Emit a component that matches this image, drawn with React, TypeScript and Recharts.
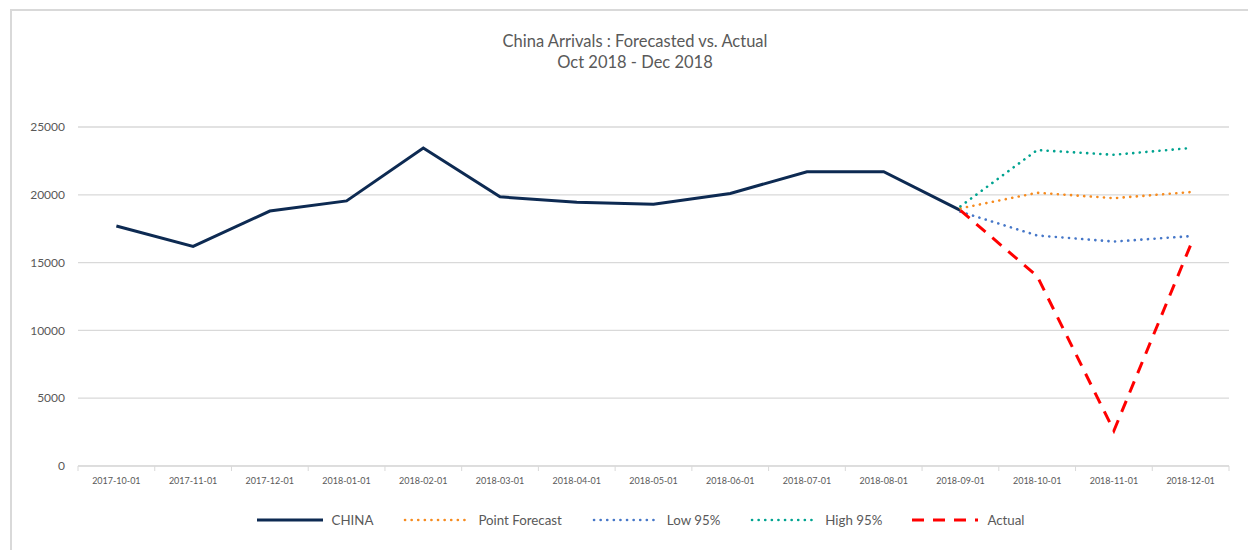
import React from 'react';
import { LineChart, Line, XAxis, YAxis, CartesianGrid, Legend } from 'recharts';

const months = [
  '2017-10-01', '2017-11-01', '2017-12-01', '2018-01-01', '2018-02-01', '2018-03-01', '2018-04-01',
  '2018-05-01', '2018-06-01', '2018-07-01', '2018-08-01', '2018-09-01', '2018-10-01', '2018-11-01', '2018-12-01',
];
const china = [17700, 16200, 18800, 19550, 23450, 19850, 19450, 19300, 20100, 21700, 21700, 18850, null, null, null];
const pointForecast = [null, null, null, null, null, null, null, null, null, null, null, 19000, 20150, 19750, 20200];
const low95 = [null, null, null, null, null, null, null, null, null, null, null, 18750, 17000, 16550, 16950];
const high95 = [null, null, null, null, null, null, null, null, null, null, null, 19150, 23300, 22950, 23450];
const actual = [null, null, null, null, null, null, null, null, null, null, null, 18850, 14000, 2600, 16300];
const yTicks = [0, 5000, 10000, 15000, 20000, 25000];

const data = months.map((m, i) => ({
  month: m,
  china: china[i],
  point: pointForecast[i],
  low: low95[i],
  high: high95[i],
  actual: actual[i],
}));

const FONT = 'Lato, "Open Sans", sans-serif';
const TEXT = '#595959';
const HALF_BAND = 38.37;

const series = [
  { key: 'china', name: 'CHINA', color: '#0d2a52', dash: undefined, width: 3, cap: 'butt' },
  { key: 'point', name: 'Point Forecast', color: '#f68b1f', dash: '0.1 6.5', width: 2.6, cap: 'round' },
  { key: 'low', name: 'Low 95%', color: '#4677c8', dash: '0.1 6.5', width: 2.6, cap: 'round' },
  { key: 'high', name: 'High 95%', color: '#00a390', dash: '0.1 6.5', width: 2.6, cap: 'round' },
  { key: 'actual', name: 'Actual', color: '#ff0000', dash: '12 9', width: 3, cap: 'butt' },
];

const XTick = (props: any) => {
  const { x, y, payload, index } = props;
  return (
    <g>
      {index === 0 && <line x1={x - HALF_BAND} x2={x - HALF_BAND} y1={y - 8} y2={y - 3} stroke="#d9d9d9" />}
      <line x1={x + HALF_BAND} x2={x + HALF_BAND} y1={y - 8} y2={y - 3} stroke="#d9d9d9" />
      <text x={x} y={y + 10} textAnchor="middle" fontSize={9} fill={TEXT} fontFamily={FONT}>
        {payload.value}
      </text>
    </g>
  );
};

const LegendContent = () => (
  <div style={{ display: 'flex', justifyContent: 'center', alignItems: 'center', height: 40, paddingTop: 8, paddingLeft: 34, boxSizing: 'border-box', fontFamily: FONT, fontSize: 13.3, color: TEXT }}>
    {series.map((s, i) => (
      <div key={s.key} style={{ display: 'flex', alignItems: 'center', marginRight: i === series.length - 1 ? 0 : 30 }}>
        <svg width={68} height={10} style={{ marginRight: 7 }}>
          <line x1={s.cap === 'round' ? 2 : 0} x2={66} y1={5} y2={5} stroke={s.color} strokeWidth={s.width} strokeDasharray={s.dash} strokeLinecap={s.cap as any} />
        </svg>
        <span>{s.name}</span>
      </div>
    ))}
  </div>
);

export default function App() {
  return (
    <div style={{ position: 'relative', width: 1248, height: 542, overflow: 'hidden', background: '#fff' }}>
      <div style={{ position: 'absolute', left: 2, top: 1, width: 1400, height: 700, borderLeft: '2px solid #d9d9d9', borderTop: '2px solid #d9d9d9' }} />
      <div style={{ position: 'absolute', left: 0, top: 23, width: 1254, textAlign: 'center', fontFamily: FONT, fontSize: 16.5, color: TEXT, lineHeight: '21px' }}>
        <div>China Arrivals : Forecasted vs. Actual</div>
        <div>Oct 2018 - Dec 2018</div>
      </div>
      <div style={{ position: 'absolute', left: 0, top: 0 }}>
        <LineChart width={1248} height={542} data={data} margin={{ top: 119, right: 27, left: 10, bottom: 14 }}>
          <CartesianGrid vertical={false} stroke="#d9d9d9" strokeWidth={1.3} />
          <XAxis dataKey="month" height={30} stroke="#d9d9d9" tickLine={false} tick={<XTick />} interval={0}
            padding={{ left: HALF_BAND, right: HALF_BAND }} />
          <YAxis width={60} domain={[0, 25000]} ticks={yTicks} axisLine={false} tickLine={false} tickSize={6} tickMargin={7}
            tick={{ fontSize: 12, fill: TEXT, fontFamily: FONT }} />
          <Legend verticalAlign="bottom" content={<LegendContent />} height={40} />
          {series.map((s) => (
            <Line key={s.key} dataKey={s.key} name={s.name} type="linear" stroke={s.color} strokeWidth={s.width}
              strokeDasharray={s.dash} strokeLinecap={s.cap as any} dot={false} activeDot={false} isAnimationActive={false} />
          ))}
        </LineChart>
      </div>
    </div>
  );
}
